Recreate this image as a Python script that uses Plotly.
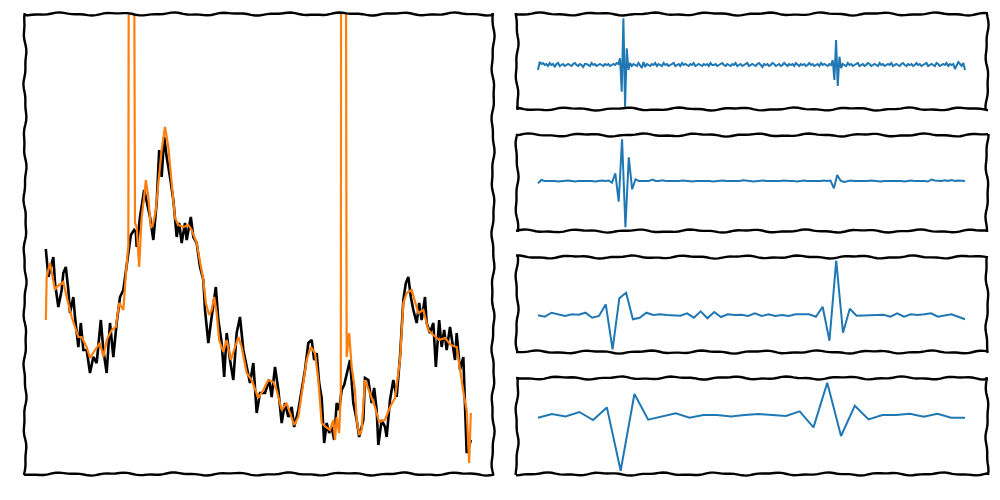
import numpy as np
import plotly.graph_objects as go

# ---------------- data ----------------
signal_t = [1,4,10,12,16,20,22,25,28,30,34,36,40,43,46,50,54,58,62,67,70,74,78,82,86,90,94,97,100,103,
            107,109,110,114,119,122,126,130,134,137,140,143,146,150,154,158,161,164,168,170,175,178,182,186,190,
            192,196,199,202,205,208,212,215,218,222,226,230,234,238,242,246,250,254,258,264,269,272,276,280,284,
            288,292,296,299,304,308,312,316,320,323,326,329,332,335,338,341,344,347,350,353,356,359,362,366,370,
            374,377,382,384,388,392,395,398,400,404,408,410,414,418,422,426,430,433,436,439,442,446,449,452,456,
            458,462,466,469,473,476,479,482,486,490,492,494,498,502,504,506,510,511]
signal_v = [44.8,39.2,43.2,38,33.2,36.6,40,41.2,36.6,32,35.2,31.2,25.2,30,24.6,24.6,20,23.2,22,30.6,
            24.6,20,30,23.2,30,35.2,36.6,40.6,44.6,47.6,48.6,48.2,45.2,51.2,56.6,54,51.2,46.6,54,64.6,
            59.2,67.2,63.2,59.2,54.6,47.2,50,46,50,46.6,51.2,47.2,46,41.2,38.6,32.6,26,30,34,37.2,
            30.6,26,19.2,28,22.6,18.6,28,31.2,24.6,21.2,18,22,12,16,16,18.6,15.2,21.2,16.6,10,
            14,11.2,13.2,9.2,12.6,16.6,20.6,26,26.6,22.6,24,18,15,6,10,8,9.2,6.6,14,12.6,
            16.6,17.6,19.6,22.6,14,10.6,7.2,10.6,19,18.6,14,17,12.6,5.6,10.6,9.2,7.2,14.6,18.6,15.2,
            23.2,34.6,38,39.2,35.2,32.6,30,34,30.6,35.2,30,28,30,21.2,30.6,25.2,28.6,24.6,29.2,24.6,
            22.6,28,20.6,23.2,14.6,4,6,6.6]

recon_t = [1,2,6,12,14,22,26,32,40,44,50,54,60,66,70,74,80,85,89,94,97,100,101,106,108,110,113,116,119,121,
           124,127,130,133,136,140,144,148,152,156,160,166,172,176,182,186,190,193,197,200,203,206,209,214,218,
           223,228,232,236,242,248,256,262,268,274,278,284,290,294,299,304,310,314,319,324,328,332,337,342,346,
           348,350,353,355,356,359,362,365,368,372,374,377,380,384,388,392,396,401,408,414,420,426,430,434,440,
           444,448,454,460,466,473,480,487,494,498,503,506,508,509,511]
recon_v = [30.6,39.2,42,36.6,37.2,38.2,35.2,31.2,27.2,27.2,25.2,23,24.6,26,23.2,26.6,28.6,29.2,34,32.6,
           39.6,45.6,160,160,50,49.2,41.2,51.2,55.2,58.6,55.2,49,50,52.6,58,64.6,69.2,65.2,58,51,
           49.6,49.2,49.6,48.6,46,42.6,38.6,34,31.6,32.6,35.2,32,26.6,24.2,26.6,22.6,25.2,27.2,25.2,20,
           18.6,15,16.6,18.6,18.2,16.6,12.6,14,12,9.6,11.2,18,22.6,25.2,24,18.6,10,9.2,8.6,10.6,
           6.6,11.2,8,16,300,300,23.2,28,21.2,16.6,10.6,7.6,8.6,18.6,16.6,15,13.2,10.2,10.6,13.2,
           15,22.6,34,36,36.6,34,32,32.6,28.6,27.6,26.6,27,25.6,25.2,20.6,15.2,12.6,6.6,2,12]

detail_1 = [-5,3,1,2,0,1,-1,2,0,1, -2,1,2,-1,0,1,-1,0,1,0, -1,1,2,0,-1,1,0,-2,1,1,
            0,-1,2,0,1,-1,0,1,0,-1, 1,0,1,-1,0,1,0,2,
            1,6.7,-26.7,46.7,-41.7,16.7,-5,2,-1,1,
            0,-1,2,0,-3,3,-2,1,0,-1, 1,0,2,-1,1,0,-1,2,0,1, -1,0,1,2,-1,0,1,-1,2,0,
            1,0,-1,1,0,2,-1,0,1,0, -1,1,0,1,-1,2,0,0,1,-1, 0,1,2,0,-1,1,0,-1,1,0,
            2,-1,0,1,-1,0,1,2,-1,0, 1,0,-1,1,2,0,-2,1,0,1, -1,0,2,1,-1,0,1,-1,0,2,
            0,-1,1,0,1,-1,2,0,-1,1, 0,1,-1,0,2,0,1,-1,0,1, -1,2,0,1,0,-1,1,0,
            5,-15,25,-21,8.3,-3,1,
            0,-1,2,0,1,-1,0,1,2,-1, 0,1,-1,0,2,1,-1,0,1,0, -1,2,0,1,-1,0,1,0,2,-1,
            0,1,0,-1,1,2,0,-1,1,0, 1,-1,0,2,0,1,-1,0,1,2, -1,0,1,0,-1,2,1,-1,0,1,
            0,2,-1,1,0,1,-4,0,3,1, -1,2,-5]

detail_2 = [-2.3,1,0,0,0.5,0,-0.5,0,0,0.5, 0,-0.5,0,0,0.5,0,0,-0.5,0,0.5, 0,0.5,
            -1.7,7.7,-20.7,41.7,-46.3,23.7,-8.3,1.7,0,
            0,0.5,0,1.5,0,0,0.7,0,0,-0.5, 0,0,0.5,0,0,-0.5,0,0,0.5,0,
            0,-0.5,0,0,0.5,0,0,0,-0.5,0, 0.7,0,0,-0.5,0,0,0.5,0,0,-0.5,
            0,0,0.5,0,0,0,-0.5,0,0.5,0, 0,-0.5,0,0,0.5,0,
            0.5,-7.3,6,0.3,-1,
            0,0.5,0,0,-0.5,0,0,0.5,0,0, -0.5,0,0,0.5,0,0,0,-0.5,0,0.5,
            0,0,0.7,0,-0.5,1.5,0.5,0,0,0.7, 0,1,0,0.5,0,0]

detail_3 = [-0.3,-1.7,2.3,0.3,-1,0.7,0.3,2.3,-2.7,-1, 10.7,-34.3,16.7,22.3,-4.3,-2.7,2.3,0,0.7,0,
            -0.7,-0.7,1.7,-2.7,3.7,-3.3,3,-2,0.7,0, 0.3,-1,1.7,-1,0.7,-1,0,-1,0.7,0.7,
            0.7,-1.7,8.3,-25.7,54.3,-17.7,6.3,-0.7,-0.7,-0.7, 0,0.3,-1.7,1.7,-1.7,0.7,0,0.7,1.7,-1.7,
            -0.7,0.7,-1.7,-4.3]

detail_4 = [-1,2.7,0.3,4.7,-3.3,9.3,-54,22.7,-3,0, 3.3,-1,1.7,1.7,0.3,1.7,2.7,1.7,0.7,5.3,
            -10.7,34,-19.3,11,-2.7,1.7,1.7,3,0,3, -1,-1]

# ---------------- layout helpers (pixel geometry of the 1000x500 page) ----------------
W, H = 1000, 500
panels = {
    "left": (25, 14, 493, 474),
    "d1": (517, 14, 987, 109),
    "d2": (517, 135, 987, 231),
    "d3": (517, 257, 987, 352),
    "d4": (517, 378, 987, 474),
}

def dom(p):
    x0, y0, x1, y1 = p
    return [x0 / W, x1 / W], [1 - y1 / H, 1 - y0 / H]

def edge(xa, ya, xb, yb, ph):
    L = float(np.hypot(xb - xa, yb - ya))
    n = int(L / 4) + 2
    s = np.linspace(0, L, n)
    ux, uy = (xb - xa) / L, (yb - ya) / L
    nx, ny = -uy, ux
    off = 1.1 * np.sin(s / 9.0 + ph) + 0.5 * np.sin(s / 3.7 + 2.3 * ph)
    xs = xa + ux * s + nx * off
    ys = ya + uy * s + ny * off
    return "M " + " L ".join(f"{x / W:.5f},{1 - y / H:.5f}" for x, y in zip(xs, ys))

def frame(p, k):
    x0, y0, x1, y1 = p
    return " ".join([
        edge(x0 - 1, y0, x1 + 1, y0, 0.7 + k),
        edge(x1, y0 - 1, x1, y1 + 1, 2.1 + k),
        edge(x1 + 1, y1, x0 - 1, y1, 3.9 + k),
        edge(x0, y1 + 1, x0, y0 - 1, 5.3 + k),
    ])

fig = go.Figure()

# left panel
fig.add_trace(go.Scatter(x=signal_t, y=signal_v, mode="lines",
                         line=dict(color="#000000", width=2.6), xaxis="x", yaxis="y"))
fig.add_trace(go.Scatter(x=recon_t, y=recon_v, mode="lines",
                         line=dict(color="#ff7f0e", width=2.2), xaxis="x", yaxis="y"))

details = [detail_1, detail_2, detail_3, detail_4]
yr = [[-44, 51], [-50, 46], [-37, 58], [-57.3, 38.7]]
for i, d in enumerate(details):
    n = i + 2
    fig.add_trace(go.Scatter(x=np.arange(len(d)), y=d, mode="lines",
                             line=dict(color="#1f77b4", width=2),
                             xaxis=f"x{n}", yaxis=f"y{n}"))

axis_style = dict(showgrid=False, zeroline=False, showticklabels=False,
                  showline=False, ticks="")

lay = dict(width=W, height=H, margin=dict(l=0, r=0, t=0, b=0),
           paper_bgcolor="white", plot_bgcolor="white", showlegend=False)

xd, ydm = dom(panels["left"])
lay["xaxis"] = dict(domain=xd, range=[-24, 537.6], anchor="y", **axis_style)
lay["yaxis"] = dict(domain=ydm, range=[-0.2, 91.8], anchor="x", **axis_style)
for i, key in enumerate(["d1", "d2", "d3", "d4"]):
    n = i + 2
    m = len(details[i]) - 1
    xd, ydm = dom(panels[key])
    lay[f"xaxis{n}"] = dict(domain=xd, range=[-21 / 427 * m, m * (1 + 22 / 427)],
                            anchor=f"y{n}", **axis_style)
    lay[f"yaxis{n}"] = dict(domain=ydm, range=yr[i], anchor=f"x{n}", **axis_style)

shapes = []
for k, key in enumerate(panels):
    shapes.append(dict(type="path", xref="paper", yref="paper", path=frame(panels[key], k * 1.3),
                       line=dict(color="black", width=2.4), layer="above"))
lay["shapes"] = shapes
fig.update_layout(**lay)

fig.write_html("out.html")
